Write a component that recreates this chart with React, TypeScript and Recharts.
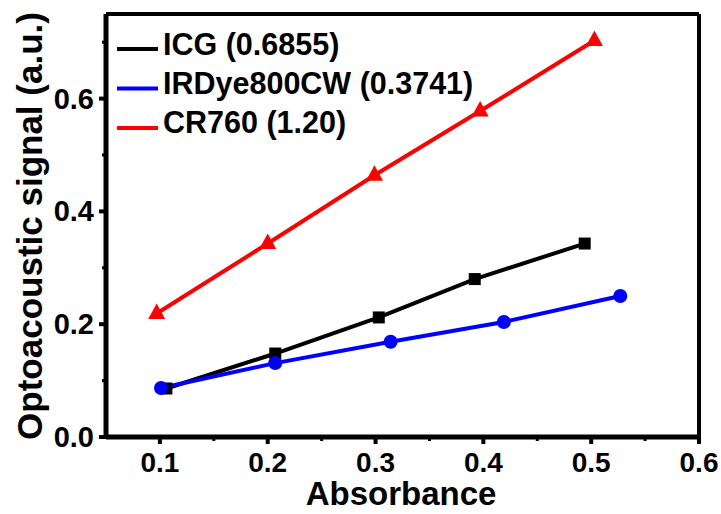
import React from 'react';
import { LineChart, Line, XAxis, YAxis, Legend, ReferenceLine } from 'recharts';

const icgX = [0.106, 0.207, 0.303, 0.392, 0.494];
const icgY = [0.086, 0.148, 0.212, 0.28, 0.343];
const irdX = [0.101, 0.207, 0.314, 0.419, 0.527];
const irdY = [0.087, 0.131, 0.169, 0.204, 0.25];
const crX = [0.097, 0.2, 0.299, 0.397, 0.503];
const crY = [0.219, 0.343, 0.464, 0.578, 0.703];

const xTicks = [0.1, 0.15, 0.2, 0.25, 0.3, 0.35, 0.4, 0.45, 0.5, 0.55, 0.6];
const yTicks = [0, 0.1, 0.2, 0.3, 0.4, 0.5, 0.6, 0.7];
const xMin = 0.05;
const xMax = 0.6;
const yMin = 0;
const yMax = 0.75;

const seriesNames = ['ICG (0.6855)', 'IRDye800CW (0.3741)', 'CR760 (1.20)'];
const seriesColors = ['#000000', '#0000ff', '#ff0000'];

const toData = (xs: number[], ys: number[]) => xs.map((x, i) => ({ x, y: ys[i] }));
const icgData = toData(icgX, icgY);
const irdData = toData(irdX, irdY);
const crData = toData(crX, crY);

const FONT = '"Liberation Sans", Arial, Helvetica, sans-serif';

const isMajorX = (v: number) => Math.abs(v * 10 - Math.round(v * 10)) < 1e-6;
const isMajorY = (v: number) => Math.abs(v * 5 - Math.round(v * 5)) < 1e-6;

const XTick = (props: any) => {
  const { x, y, payload } = props;
  const v = payload.value;
  const major = isMajorX(v);
  return (
    <g>
      <line x1={x} x2={x} y1={y} y2={y + (major ? 7 : 4)} stroke="#000" strokeWidth={major ? 4 : 3} />
      {major && (
        <text x={x} y={y + 35} textAnchor="middle" fontFamily={FONT} fontWeight="bold" fontSize={28} fill="#000">
          {v.toFixed(1)}
        </text>
      )}
    </g>
  );
};

const YTick = (props: any) => {
  const { x, y, payload } = props;
  const v = payload.value;
  const major = isMajorY(v);
  return (
    <g>
      <line x1={x} x2={x - (major ? 7 : 4)} y1={y} y2={y} stroke="#000" strokeWidth={major ? 4 : 3} />
      {major && (
        <text x={x - 12} y={y + 10} textAnchor="end" fontFamily={FONT} fontWeight="bold" fontSize={29} fill="#000">
          {v.toFixed(1)}
        </text>
      )}
    </g>
  );
};

const SquareDot = (props: any) => {
  const { cx, cy } = props;
  if (cx == null || cy == null) return null;
  return <rect x={cx - 6} y={cy - 6} width={12} height={12} fill="#000" />;
};

const CircleDot = (props: any) => {
  const { cx, cy } = props;
  if (cx == null || cy == null) return null;
  return <circle cx={cx} cy={cy} r={7} fill="#0000ff" />;
};

const TriDot = (props: any) => {
  const { cx, cy } = props;
  if (cx == null || cy == null) return null;
  return <polygon points={`${cx},${cy - 10} ${cx - 8.5},${cy + 5.5} ${cx + 8.5},${cy + 5.5}`} fill="#ff0000" />;
};

const LegendContent = () => (
  <svg width={600} height={150} style={{ display: 'block', overflow: 'visible' }}>
    {seriesNames.map((n, i) => (
      <g key={n}>
        <line x1={117} x2={158} y1={49 + i * 39.5} y2={49 + i * 39.5} stroke={seriesColors[i]} strokeWidth={4} />
        <text x={163} y={55 + i * 39} fontFamily={FONT} fontWeight="bold" fontSize={30.5} fill="#000">
          {n}
        </text>
      </g>
    ))}
  </svg>
);

const YTitle = () => (
  <text x={42} y={226} transform="rotate(-90 42 226)" textAnchor="middle" fontFamily={FONT} fontWeight="bold" fontSize={35} fill="#000">
    Optoacoustic signal (a.u.)
  </text>
);

const XTitle = () => (
  <text x={401} y={505} textAnchor="middle" fontFamily={FONT} fontWeight="bold" fontSize={33} fill="#000">
    Absorbance
  </text>
);

export default function App() {
  return (
    <div style={{ position: 'absolute', left: 0, top: 0, background: '#fff' }}>
      <LineChart width={721} height={514} margin={{ top: 14, right: 22, bottom: 0, left: 0 }}>
        <XAxis
          xAxisId="bottom"
          type="number"
          dataKey="x"
          domain={[xMin, xMax]}
          ticks={xTicks}
          allowDataOverflow
          height={77}
          axisLine={{ stroke: '#000', strokeWidth: 5 }}
          tickLine={false}
          tickSize={0}
          tickMargin={0}
          tick={<XTick />}
          interval={0}
          label={{ content: () => <XTitle /> }}
        />
        <YAxis
          yAxisId="left"
          type="number"
          domain={[yMin, yMax]}
          ticks={yTicks}
          allowDataOverflow
          width={106}
          axisLine={{ stroke: '#000', strokeWidth: 5 }}
          tickLine={false}
          tickSize={0}
          tickMargin={0}
          tick={<YTick />}
          interval={0}
          label={{ content: () => <YTitle /> }}
        />
        <ReferenceLine xAxisId="bottom" yAxisId="left" y={yMax} stroke="#000" strokeWidth={4} ifOverflow="visible" />
        <ReferenceLine xAxisId="bottom" yAxisId="left" x={xMax} stroke="#000" strokeWidth={4} ifOverflow="visible" />
        <Legend
          content={() => <LegendContent />}
          wrapperStyle={{ position: 'absolute', left: 0, top: 0, width: 0, height: 0, overflow: 'visible' }}
        />
        <Line
          xAxisId="bottom"
          yAxisId="left"
          data={icgData}
          dataKey="y"
          name={seriesNames[0]}
          stroke={seriesColors[0]}
          strokeWidth={4}
          dot={<SquareDot />}
          activeDot={false}
          isAnimationActive={false}
        />
        <Line
          xAxisId="bottom"
          yAxisId="left"
          data={irdData}
          dataKey="y"
          name={seriesNames[1]}
          stroke={seriesColors[1]}
          strokeWidth={4}
          dot={<CircleDot />}
          activeDot={false}
          isAnimationActive={false}
        />
        <Line
          xAxisId="bottom"
          yAxisId="left"
          data={crData}
          dataKey="y"
          name={seriesNames[2]}
          stroke={seriesColors[2]}
          strokeWidth={4}
          dot={<TriDot />}
          activeDot={false}
          isAnimationActive={false}
        />
      </LineChart>
    </div>
  );
}
